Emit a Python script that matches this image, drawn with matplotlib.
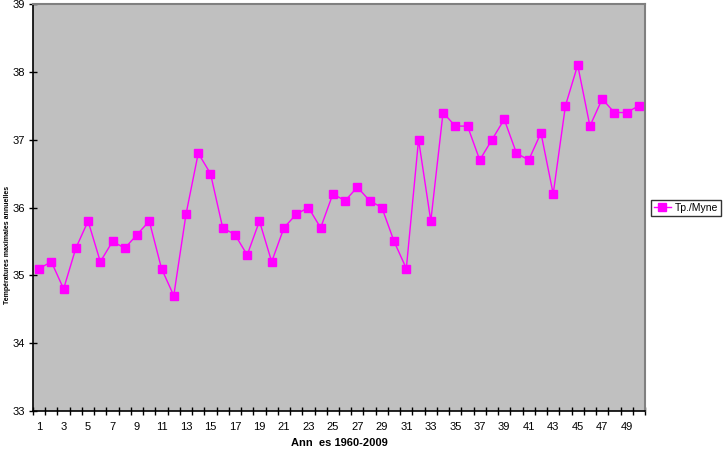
import matplotlib

matplotlib.use("Agg")

from matplotlib import pyplot as plt
from matplotlib.ticker import FixedLocator


years = list(range(1, 51))
temps = [
    35.1, 35.2, 34.8, 35.4, 35.8, 35.2, 35.5, 35.4, 35.6, 35.8,
    35.1, 34.7, 35.9, 36.8, 36.5, 35.7, 35.6, 35.3, 35.8, 35.2,
    35.7, 35.9, 36.0, 35.7, 36.2, 36.1, 36.3, 36.1, 36.0, 35.5,
    35.1, 37.0, 35.8, 37.4, 37.2, 37.2, 36.7, 37.0, 37.3, 36.8,
    36.7, 37.1, 36.2, 37.5, 38.1, 37.2, 37.6, 37.4, 37.4, 37.5,
]
x_labels = [str(v) for v in range(1, 50, 2)]
y_ticks = [33, 34, 35, 36, 37, 38, 39]
series_name = "Tp./Myne"

MAGENTA = "#ff00ff"
PLOT_BG = "#c0c0c0"

plt.rcParams["font.family"] = ["Liberation Sans", "DejaVu Sans"]

fig = plt.figure(figsize=(7.27, 4.53), dpi=100, facecolor="white")
ax = fig.add_axes([33 / 727, 42 / 453, 612 / 727, 407 / 453], facecolor=PLOT_BG)

line, = ax.plot(
    years, temps, color=MAGENTA, linewidth=1.0,
    marker="s", markersize=6, markerfacecolor=MAGENTA,
    markeredgecolor=MAGENTA, label=series_name,
)

ax.set_xlim(0.5, 50.5)
ax.set_ylim(33, 39)
ax.set_yticks(y_ticks)
ax.set_xticks(list(range(1, 50, 2)))
ax.set_xticklabels(x_labels)
ax.xaxis.set_minor_locator(FixedLocator([v + 0.5 for v in range(0, 51)]))
ax.tick_params(axis="x", which="major", length=0, labelsize=8, pad=8)
ax.tick_params(axis="x", which="minor", direction="inout", length=6, width=1)
ax.tick_params(axis="y", direction="inout", length=6, width=1, labelsize=8, pad=3)

for side in ("left", "bottom"):
    ax.spines[side].set_color("black")
    ax.spines[side].set_linewidth(1.2)
for side in ("top", "right"):
    ax.spines[side].set_color("#808080")
    ax.spines[side].set_linewidth(1.5)

ax.set_xlabel("Ann  es 1960-2009", fontsize=8, fontweight="bold", labelpad=4)
fig.text(8 / 727, 1 - 245 / 453, "Températures maximales annuelles",
         rotation=90, fontsize=5, fontweight="bold", ha="center", va="center")

leg = ax.legend(
    loc="center left", bbox_to_anchor=(651 / 727, 1 - 208 / 453),
    bbox_transform=fig.transFigure, fontsize=7.5, frameon=True,
    fancybox=False, borderpad=0.3, borderaxespad=0,
    handlelength=1.6, handletextpad=0.4,
)
leg.get_frame().set_edgecolor("black")
leg.get_frame().set_linewidth(1.0)

fig.savefig("out.png", dpi=100, facecolor="white")
